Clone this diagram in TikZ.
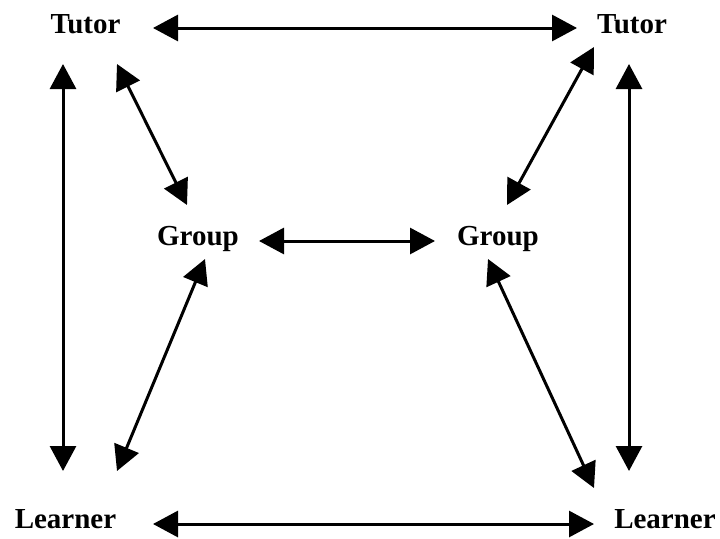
\documentclass[tikz,border=0pt]{standalone}
\usepackage{fontspec}
\setmainfont{Liberation Serif}
\usetikzlibrary{arrows.meta}
\begin{document}
\begin{tikzpicture}[x=1pt, y=-1pt,
  lbl/.style={font=\fontsize{29}{32}\selectfont\bfseries, inner sep=0pt, anchor=base},
  link/.style={line width=3pt, {Triangle[length=25pt,width=26pt]}-{Triangle[length=25pt,width=26pt]}}]
  \useasboundingbox (0,0) rectangle (720,538);

  % labels
  \node[lbl] (tl) at (85.5,33) {Tutor};
  \node[lbl] (tr) at (632,33) {Tutor};
  \node[lbl] (gl) at (198,245) {Group};
  \node[lbl] (gr) at (498,245) {Group};
  \node[lbl] (ll) at (65.5,528) {Learner};
  \node[lbl] (lr) at (665,528) {Learner};

  % outer square
  \draw[link] ([xshift=67.5pt,yshift=5pt]tl.base) -- ([xshift=-55pt,yshift=5pt]tr.base);
  \draw[link] ([xshift=-22.5pt,yshift=-31pt]tl.base) -- ([xshift=-2.5pt,yshift=57pt]ll.base);
  \draw[link] ([xshift=-3pt,yshift=-31pt]tr.base) -- ([xshift=-36pt,yshift=57pt]lr.base);
  \draw[link] ([xshift=87.5pt,yshift=4pt]ll.base) -- ([xshift=-71pt,yshift=4pt]lr.base);

  % to and between the groups
  \draw[link] ([xshift=31.5pt,yshift=-31pt]tl.base) -- ([xshift=-11pt,yshift=40pt]gl.base);
  \draw[link] ([xshift=-38pt,yshift=-14pt]tr.base) -- ([xshift=9pt,yshift=40pt]gr.base);
  \draw[link] ([xshift=61pt,yshift=4pt]gl.base) -- ([xshift=-63pt,yshift=4pt]gr.base);
  \draw[link] ([xshift=51.5pt,yshift=57pt]ll.base) -- ([xshift=7pt,yshift=-14pt]gl.base);
  \draw[link] ([xshift=-10pt,yshift=-14pt]gr.base) -- ([xshift=-71pt,yshift=40pt]lr.base);
\end{tikzpicture}
\end{document}
